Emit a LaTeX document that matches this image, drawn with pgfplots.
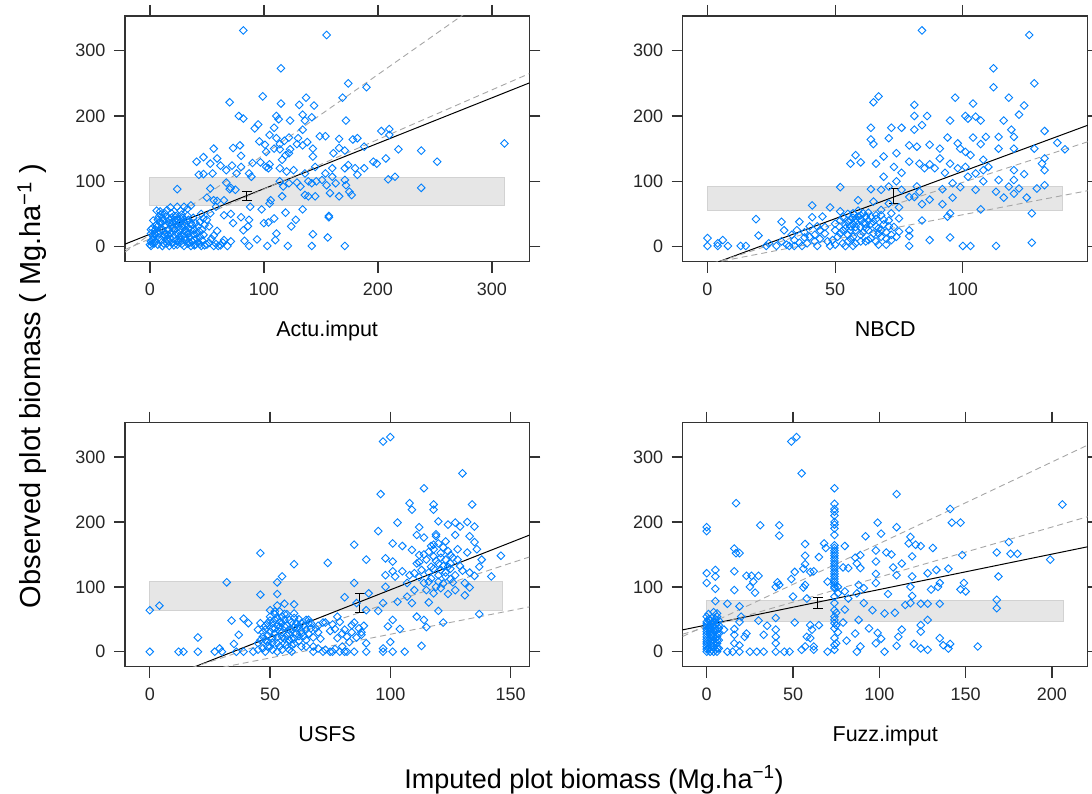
\documentclass[border=0pt]{standalone}
\usepackage{fontspec}
\setmainfont{Liberation Sans}
\usepackage{pgfplots}
\pgfplotsset{compat=1.18}
\definecolor{ptblue}{HTML}{0080FF}
\definecolor{bandfill}{HTML}{E6E6E6}
\definecolor{bandedge}{HTML}{D2D2D2}
\definecolor{dashgrey}{HTML}{A6A6A6}
\definecolor{axisgrey}{HTML}{333333}
\pgfplotsset{
  panel/.style={
    scale only axis, anchor=south west,
    ymin=-23.1, ymax=353.1, ytick={0,100,200,300},
    xticklabel pos=lower, yticklabel pos=left,
    xtick pos=both, ytick pos=both,
    tick align=outside, major tick length=11pt,
    axis line style={line width=1.3pt, axisgrey},
    every tick/.style={line width=1.3pt, axisgrey},
    /pgf/number format/assume math mode=true,
    tick label style={font=\fontsize{18}{20}\selectfont, text=black!85},
    xticklabel style={yshift=-7pt},
    yticklabel style={xshift=-5pt},
    xlabel style={at={(axis description cs:0.5,0)}, anchor=base, yshift=-75pt, font=\fontsize{21.5}{25}\selectfont},
    clip=true,
  },
  pts/.style={only marks, mark=square, mark size=2.7pt, ptblue, line width=0.9pt, mark options={rotate=45}},
  band/.style={fill=bandfill, draw=bandedge, line width=0.9pt},
  fit/.style={black, line width=1pt, mark=none},
  ci/.style={dashgrey, line width=0.9pt, dash pattern=on 6pt off 4pt, mark=none},
  eb/.style={black, mark=none, forget plot, error bars/.cd, y dir=both, y explicit, error mark=-, error bar style={line width=1pt, black}, error mark options={rotate=90, black, mark size=5pt, line width=1pt}},
}
\begin{document}
\begin{tikzpicture}
\useasboundingbox (0,0) rectangle (1092pt,793pt);
% ---------------- Panel 1: Actu.imput
\begin{axis}[panel, at={(125pt,531.3pt)}, width=404.3pt, height=245.7pt,
  xmin=-21.8, xmax=332.8, xtick={0,100,200,300}, xlabel={Actu.imput}]
\addplot[band] coordinates {(0,63.3) (311.3,63.3) (311.3,106.6) (0,106.6)} -- cycle;
\addplot[pts] coordinates {
(82,331) (155,324) (115,273) (174,250) (190,244) (70,221) (99,230) (115,219) (137,228) (131,217) (144,216) (169,228) (172,193) (78,200) (82,196) (95,187) (92,181) (111,200) (113,195) (109,182) (123,193) (136,193) (134,202) (142,198) (134,179) (203,177) (210,180) (210,171) (218,149) (238,147) (252,130) (311,158) (196,130) (199,127) (207,135) (209,103) (215,107) (238,90) (178,164) (182,166) (166,165) (149,169) (154,169) (171,147) (188,153) (161,143) (166,151) (143,150) (143,138) (138,160) (129,157) (134,155) (130,166) (122,167) (118,162) (114,157) (111,166) (105,171) (101,156) (96,161) (102,145) (109,150) (114,149) (119,140) (123,149) (122,143) (116,133) (105,126) (104,120) (97,129) (102,122) (90,128) (79,155) (73,151) (80,139) (80,122) (72,124) (76,112) (87,112) (89,107) (56,150) (47,137) (41,130) (53,127) (59,135) (62,124) (67,117) (55,112) (43,110) (47,111) (53,89) (67,98) (71,90) (70,88) (24,88) (50,75) (56,71) (59,70) (65,71) (75,87) (71,50) (65,48) (58,61) (53,51) (47,43) (52,31) (59,24) (56,17) (65,10) (71,8) (68,1) (60,1) (83,9) (73,36) (80,45) (82,25) (86,31) (87,41) (88,61) (87,1) (94,11) (98,57) (100,36) (104,37) (105,66) (106,71) (103,1) (110,10) (111,20) (109,43) (116,77) (119,52) (121,1) (124,31) (128,41) (134,57) (142,1) (143,19) (156,14) (157,47) (157,45) (171,1)
(114,100) (117,92) (122,97) (129,98) (132,92) (136,79) (139,77) (145,77) (139,100) (142,97) (146,100) (151,102) (155,94) (158,82) (163,97) (160,107) (171,102) (172,94) (175,84) (166,77) (177,79) (114,120) (120,115) (126,117) (136,112) (145,122) (154,112) (160,120) (174,125) (171,120) (182,110) (180,120) (188,120)
(1,1) (4,5) (7,3) (10,10) (13,18) (5,26) (2,28) (7,41) (6,55) (10,49) (14,46) (17,41) (21,47) (24,41) (27,43) (30,38) (33,47) (36,63) (24,61) (30,61) (10,36) (13,31) (16,26) (19,33) (22,26) (25,20) (28,31) (31,26) (34,20) (36,36) (31,15) (27,10) (21,13) (16,8) (11,1) (17,1) (24,3) (30,1) (36,1) (40,3) (45,1) (50,3) (56,1) (39,10) (44,15) (39,26) (42,31) (46,26) (50,41) (45,50) (3,15) (1,8) (8,20) (22,18) (19,51) (13,51) (8,46) (28,49) (34,41) (22,41) (25,31) (14,20) (10,26) (4,20) (1,20) (1,26) (16,18) (33,5) (37,8) (42,6) (17,26) (30,20) (36,26)
(0,3) (2,10) (5,8) (8,14) (12,5) (15,12) (18,20) (20,6) (23,9) (26,15) (28,4) (32,10) (35,14) (38,18) (41,20) (44,38) (48,33) (26,36) (20,38) (12,40) (6,34) (3,40)
(2,5) (3,12) (5,18) (6,30) (8,24) (9,38) (11,44) (12,15) (14,33) (15,5) (17,36) (18,12) (19,44) (20,28) (21,2) (22,34) (23,47) (25,8) (26,26) (27,38) (28,16) (29,44) (31,32) (32,22) (33,39) (34,28) (35,6) (37,33) (38,44) (39,2) (40,36) (41,13) (43,24) (44,4) (46,9) (47,18) (48,2) (52,6) (54,12) (58,4) (62,2) (64,6) (9,54) (15,56) (27,55) (33,58) (18,60)
};
\addplot[fit] coordinates {(-21.8,3.8) (332.8,250.6)};
\addplot[ci] coordinates {(-21.8,-8.3) (332.8,426.1)};
\addplot[ci] coordinates {(-21.8,-4.6) (332.8,264.9)};
\addplot[eb] coordinates {(85,77) +- (0,7)};
\end{axis}
% ---------------- Panel 2: NBCD
\begin{axis}[panel, at={(682.7pt,531.3pt)}, width=405pt, height=245.7pt,
  xmin=-9.7, xmax=148.9, xtick={0,50,100}, xlabel={NBCD}]
\addplot[band] coordinates {(0,55.1) (139.2,55.1) (139.2,91.8) (0,91.8)} -- cycle;
\addplot[pts] coordinates {
(84,331) (126,324) (112,273) (128,250) (112,244) (65,221) (67,230) (81,217) (97,228) (104,219) (118,228) (124,216) (64,182) (72,182) (76,182) (81,200) (86,200) (84,186) (95,193) (101,200) (102,196) (105,199) (107,193) (116,193) (122,202) (119,179) (132,177) (81,179) (64,164) (65,157) (71,166) (79,155) (82,153) (87,156) (94,167) (91,150) (98,158) (99,150) (101,145) (103,140) (107,157) (109,168) (104,167) (114,168) (120,168) (120,150) (114,150) (128,150) (137,159) (140,149) (56,127) (58,140) (60,129) (66,127) (69,138) (74,143) (69,107) (73,122) (76,113) (79,130) (83,127) (85,120) (87,126) (89,120) (91,135) (93,113) (95,127) (98,120) (101,122) (102,107) (105,112) (108,117) (110,122) (108,133) (114,102) (120,117) (120,102) (124,111) (132,117) (132,135) (131,127) (129,89) (132,94) (125,75) (127,51) (127,6) (122,89) (120,81) (118,92) (116,75) (113,84) (113,1) (107,57) (105,87) (108,100) (103,1) (100,1) (95,14) (95,51) (94,46) (96,75) (99,91) (92,65) (96,97) (92,88) (87,72) (84,65) (87,10) (84,40) (79,25) (79,1) (79,16) (75,23) (75,43) (75,60) (79,76) (81,76) (83,84) (82,92) (76,87) (74,100) (71,92) (68,87) (64,88) (52,91) (59,71) (65,69) (68,56) (71,66) (72,51) (69,41) (71,31) (72,18) (70,3) (67,3) (64,13) (63,25) (61,36) (59,46) (57,51) (56,41) (54,33) (56,31) (58,25) (60,18) (57,15) (55,8) (57,1) (54,1) (52,20) (50,25) (52,54) (49,10) (48,1) (46,20) (45,46) (43,31) (43,1) (42,18) (41,63) (41,45) (40,31) (39,5) (37,1) (36,38) (35,25) (34,10) (34,1) (32,1) (30,25) (29,38) (29,8) (27,1) (24,5) (23,1) (20,17) (19,42) (15,1) (13,1) (8,1) (6,10) (4,5) (0,13) (0,1) (4,1) (48,60) (53,25) (60,41) (61,51) (62,46) (58,38) (56,25) (66,31) (67,20) (64,46)
(53,45) (55,50) (57,35) (58,42) (60,30) (62,35) (63,40) (65,38) (66,48) (68,25) (70,12) (62,8) (58,5) (50,3) (47,8) (44,12) (38,14) (36,6) (33,18) (31,3)
(50,35) (51,15) (52,40) (53,5) (54,28) (55,18) (55,38) (56,12) (57,44) (58,30) (59,55) (60,8) (60,48) (61,22) (62,28) (63,10) (63,52) (64,35) (65,20) (66,8) (66,42) (67,28) (68,15) (68,48) (69,34) (70,22) (71,40) (72,10) (73,30) (74,15) (46,30) (44,25) (42,8) (40,15) (38,22)
};
\addplot[fit] coordinates {(-9.7,-43.5) (148.9,185.8)};
\addplot[ci] coordinates {(-9.7,-41) (148.9,160.5)};
\addplot[ci] coordinates {(-9.7,-33.7) (148.9,85.6)};
\addplot[eb] coordinates {(73,77.5) +- (0,11.5)};
\end{axis}
% ---------------- Panel 3: USFS
\begin{axis}[panel, at={(125pt,126.3pt)}, width=404.3pt, height=244pt,
  xmin=-10.3, xmax=157.8, xtick={0,50,100,150}, xlabel={USFS}]
\addplot[band] coordinates {(0,63.3) (146.7,63.3) (146.7,108.6) (0,108.6)} -- cycle;
\addplot[pts] coordinates {
(100,331) (97,324) (130,275) (114,252) (96,243) (108,229) (134,227) (118,227) (118,219) (109,219) (103,199) (120,201) (124,196) (127,199) (129,193) (132,200) (135,193) (95,186) (101,167) (105,163) (112,192) (111,180) (114,176) (119,181) (127,180) (133,178) (135,169) (109,157) (117,163) (120,167) (122,161) (125,149) (128,158) (132,153) (136,158) (138,142) (146,148) (142,116) (137,58) (137,131) (133,122) (135,117) (131,106) (133,99) (131,87) (127,95) (126,107) (124,89) (122,45) (120,63) (118,90) (119,100) (116,76) (115,38) (114,49) (113,9) (111,54) (109,75) (110,95) (107,85) (108,118) (105,124) (102,116) (101,124) (98,118) (103,77) (104,35) (101,49) (99,39) (100,15) (101,0) (97,5) (97,0) (106,0) (97,75) (95,63) (98,100) (98,144) (101,139) (90,142) (85,165) (85,106) (91,90) (81,84) (86,75) (90,64) (88,26) (90,13) (90,0) (85,0) (84,41) (81,34) (78,21) (75,0) (76,0) (79,0) (81,0) (82,0) (72,0) (68,0) (74,137) (73,45) (75,32) (78,54) (65,49) (66,44) (63,28) (62,17) (65,8) (68,8) (60,135) (60,73) (60,59) (55,116) (53,107) (53,89) (53,71) (56,74) (46,152) (46,88) (32,107) (34,48) (39,51) (41,44) (37,26) (35,12) (30,0) (29,5) (27,0) (20,0) (20,22) (14,0) (12,0) (0,0) (0,64) (4,71) (45,13) (43,0) (47,23) (48,34) (49,44) (50,54) (50,64) (51,44) (52,28) (53,13) (53,0) (55,23) (56,39) (56,49) (58,34) (58,18) (59,0) (61,44) (62,39) (63,44) (65,34) (66,49) (48,0) (50,8) (53,41) (56,13) (46,44) (45,34) (48,18) (50,31) (51,21) (54,31) (55,54) (52,49) (58,49) (59,34) (61,28) (39,0) (36,0)
(111,136) (113,126) (115,142) (117,131) (118,147) (120,136) (121,126) (123,142) (124,131) (125,136) (128,142) (114,106) (117,113) (120,108) (123,116) (115,95) (121,98) (110,121) (107,106) (112,149) (116,154) (121,152) (118,165) (123,170) (119,178)
(47,5) (49,15) (51,36) (54,46) (57,25) (59,10) (60,38) (62,50) (64,24) (67,36) (70,40) (72,45) (60,20) (57,58) (54,62) (52,58)
(70,5) (73,3) (77,4) (80,8) (83,15) (86,22) (88,30) (87,36) (84,30) (82,23) (80,28) (77,35) (76,42) (79,46) (85,45) (89,40)
(45,3) (46,18) (47,30) (48,40) (49,8) (49,25) (50,48) (51,3) (51,14) (52,36) (52,62) (53,22) (53,52) (54,8) (54,38) (55,3) (55,30) (55,44) (56,20) (56,58) (57,10) (57,40) (58,3) (58,28) (59,46) (59,20) (60,12) (60,52) (61,36) (62,24) (63,8) (63,32) (64,40) (65,18) (66,28) (67,44) (68,22) (69,36) (70,30) (71,20)
(112,138) (114,150) (116,122) (118,128) (119,140) (120,118) (121,145) (122,132) (123,122) (125,128) (126,145) (127,118) (129,132) (130,125) (122,105) (125,112) (116,108) (112,115) (118,158) (124,155)
};
\addplot[fit] coordinates {(-10.3,-65.5) (157.8,179.7)};
\addplot[ci] coordinates {(-10.3,-58.4) (157.8,146)};
\addplot[ci] coordinates {(-10.3,-53.6) (157.8,69.1)};
\addplot[eb] coordinates {(87.4,75) +- (0,14)};
\end{axis}
% ---------------- Panel 4: Fuzz.imput
\begin{axis}[panel, at={(682.7pt,126.3pt)}, width=405pt, height=244pt,
  xmin=-13.9, xmax=220.7, xtick={0,50,100,150,200}, xlabel={Fuzz.imput}]
\addplot[band] coordinates {(0,46.3) (206.5,46.3) (206.5,78.7) (0,78.7)} -- cycle;
\addplot[pts] coordinates {
(49,324) (52,331) (55,275) (110,243) (74,252) (206,227) (17,229) (0,192) (0,186) (31,195) (42,195) (42,179) (99,199) (110,192) (141,220) (142,199) (147,199) (92,178) (101,182) (118,177) (121,165) (124,163) (131,160) (117,167) (175,169) (176,151) (180,151) (168,153) (199,142) (169,116) (168,80) (168,67) (148,149) (149,106) (150,93) (147,96) (140,128) (135,106) (134,100) (135,74) (135,21) (137,10) (140,5) (141,12) (157,8) (133,126) (130,96) (128,74) (124,74) (128,49) (124,41) (124,31) (124,5) (128,3) (128,121) (120,12) (118,75) (119,86) (118,100) (119,116) (119,147) (115,72) (113,136) (111,23) (110,9) (113,34) (110,118) (109,60) (108,130) (107,150) (104,153) (105,89) (103,59) (101,20) (103,0) (98,13) (99,29) (98,106) (98,120) (98,139) (98,156) (96,64) (94,36) (91,98) (91,75) (89,8) (88,49) (87,0) (86,28) (89,129) (87,136) (89,149) (86,145) (88,103) (87,90) (82,82) (80,163) (79,130) (82,129) (80,93) (80,65) (79,45) (81,17) (70,0) (65,146) (68,167) (69,160) (70,108) (57,166) (57,148) (57,135) (56,128) (60,123) (62,124) (57,103) (56,99) (58,82) (51,123) (49,112) (50,85) (51,45) (65,41) (60,41) (61,34) (60,21) (62,8) (62,3) (55,3) (58,23) (57,8) (48,0) (45,0) (40,0) (40,13) (40,23) (40,34) (40,52) (41,107) (42,103) (40,100) (35,40) (33,26) (33,0) (29,0) (25,0) (30,48) (28,91) (30,117) (27,108) (26,117) (25,100) (23,117) (23,28) (22,23) (19,70) (17,152) (16,159) (19,152) (16,124) (16,95) (16,35) (16,26) (16,13) (15,0) (12,0) (12,74) (10,34) (19,46) (20,54) (19,10) (19,0) (5,126) (5,116) (5,97) (5,78) (0,121) (0,106) (4,61) (6,59)
(0,0) (0,8) (0,15) (0,23) (0,31) (0,39) (0,46) (0,54) (2,0) (2,10) (2,21) (2,31) (2,41) (2,49) (4,0) (4,8) (4,18) (4,28) (4,39) (4,46) (6,0) (6,13) (6,23) (6,34) (6,44) (6,54) (7,5) (7,18) (7,28) (7,41) (1,5) (3,3) (5,3) (1,36) (3,25) (5,33) (3,52)
(0,4) (0,12) (0,19) (0,27) (0,35) (0,43) (1,50) (2,15) (2,26) (2,36) (3,44) (3,8) (4,13) (4,23) (4,33) (5,41) (5,50) (6,5) (6,18) (6,28) (7,36) (7,48) (1,58) (5,20)
(74,100) (74,104) (74,108) (74,112) (74,116) (74,120) (74,124) (74,128) (74,132) (74,136) (74,140) (74,144) (74,148) (74,152) (74,156) (74,160) (74,164) (74,180) (74,190) (74,196) (74,200) (74,210) (74,216) (74,220) (74,228) (74,98) (74,85) (74,75) (74,64) (74,54) (74,49) (74,44) (74,36) (74,21) (74,10) (74,3) (75,41) (75,13) (76,100) (76,90) (75,60) (76,30)
};
\addplot[fit] coordinates {(-13.9,33.7) (220.7,161.8)};
\addplot[ci] coordinates {(-13.9,23.5) (220.7,318.6)};
\addplot[ci] coordinates {(-13.9,27.1) (220.7,208.2)};
\addplot[eb] coordinates {(64.3,75.5) +- (0,8.5)};
\end{axis}
\node[rotate=90, anchor=base, font=\fontsize{29}{34}\selectfont] at (40.5pt,407pt) {Observed plot biomass ( Mg.ha\textsuperscript{−1} )};
\node[anchor=base, font=\fontsize{27}{32}\selectfont] at (594pt,5pt) {Imputed plot biomass (Mg.ha\textsuperscript{−1})};
\end{tikzpicture}
\end{document}
